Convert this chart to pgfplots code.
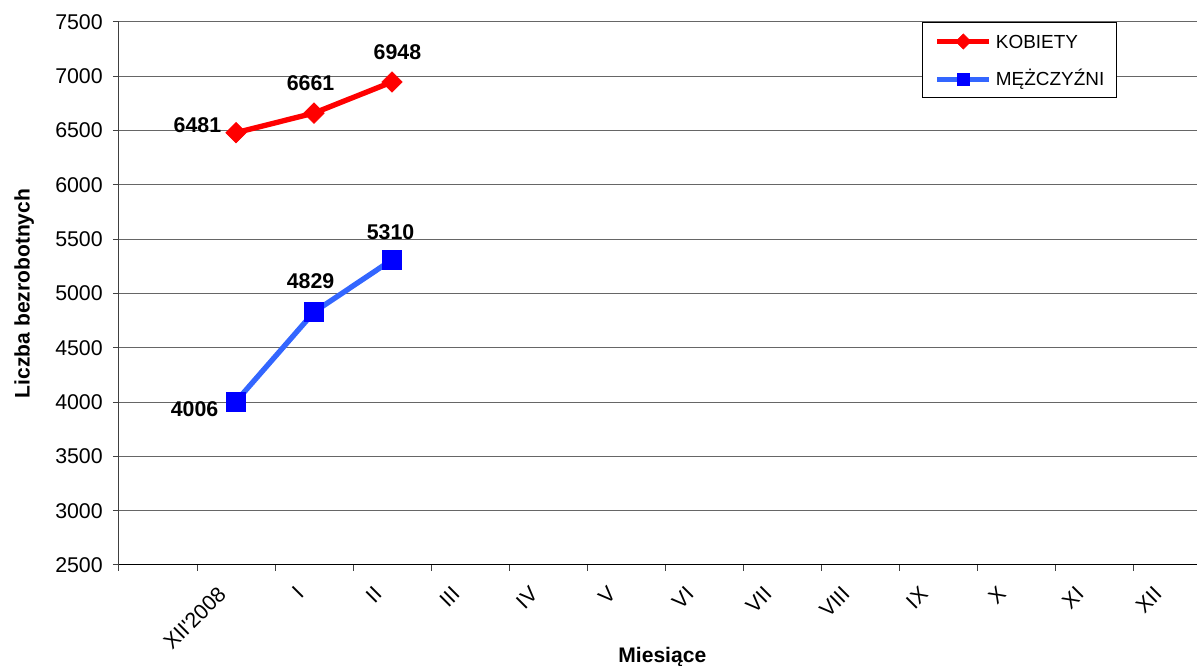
\documentclass[border=0pt]{standalone}
\usepackage{fontspec}
\setmainfont{Liberation Sans}[Ligatures=TeXOff]
\usepackage{pgfplots}
\usepackage{pgfplotstable}
\pgfplotsset{compat=1.18}
\definecolor{kred}{HTML}{FF0000}
\definecolor{mline}{HTML}{3366FF}
\definecolor{mmark}{HTML}{0000FF}

\pgfplotstableread{
x y dx dy
0 6481 -28.9 5.8
1 6661 -2.6 22.2
2 6948 4.1 22.1
}\kob
\pgfplotstableread{
x y dx dy
0 4006 -31.1 -5.6
1 4829 -2.6 23.0
2 5310 -1.1 20.5
}\mez

\begin{document}
\begin{tikzpicture}
\begin{axis}[
  scale only axis, width=808.5pt, height=407.25pt,
  xmin=-1.5, xmax=12.32, ymin=2500, ymax=7500,
  axis lines=left, axis line style={-},
  x axis line style={black, line width=0.75pt},
  y axis line style={black!75, line width=0.75pt},
  ytick={2500,3000,...,7500},
  xtick={-1.5,-0.5,0.5,1.5,2.5,3.5,4.5,5.5,6.5,7.5,8.5,9.5,10.5,11.5},
  xticklabel=\empty,
  extra x ticks={0,1,2,3,4,5,6,7,8,9,10,11,12},
  extra x tick labels={XII'2008,I,II,III,IV,V,VI,VII,VIII,IX,X,XI,XII},
  extra x tick style={major tick length=0pt,
    xticklabel style={xshift=-14.5pt, yshift=-15pt, rotate=45, anchor=north east, inner sep=0pt}},
  tick align=outside,
  major tick length=4.5pt,
  tick style={black!75, line width=0.75pt},
  tick label style={font=\fontsize{16}{19}\selectfont},
  yticklabel style={inner sep=0pt, xshift=-7.5pt},
  /pgf/number format/assume math mode=true,
  /pgf/number format/1000 sep={},
  ymajorgrids, major grid style={black!60, line width=0.75pt},
  xlabel={Miesiące}, ylabel={Liczba bezrobotnych},
  label style={font=\fontsize{15.8}{19}\selectfont\bfseries},
  xlabel style={at={(axis description cs:0.504,-0.169)}, anchor=center},
  ylabel style={at={(axis description cs:-0.088,0.5)}, anchor=center},
  legend style={at={(0.745,1)}, anchor=north west, draw=black, line width=0.75pt, fill=white,
    inner xsep=9pt, inner ysep=8.6pt, row sep=17.5pt, column sep=3pt,
    font=\fontsize{14.2}{17}\selectfont,
    nodes={inner sep=0pt, text height=10.2pt, text depth=0pt}},
  legend cell align=left,
  legend image code/.code={\draw[mark repeat=2,mark phase=2,#1] plot coordinates {(0pt,0pt) (19.5pt,0pt) (39pt,0pt)};},
]
\coordinate (sw) at (rel axis cs:0,0);
\addlegendimage{kred, line width=4pt, mark=square*, mark size=4pt, mark options={rotate=45, line width=0.5pt}}
\addlegendentry{KOBIETY}
\addlegendimage{mline, line width=4pt, mark=square*, mark size=4.6pt, mark options={mmark, line width=0.5pt}}
\addlegendentry{MĘŻCZYŹNI}
\addplot[kred, line width=4pt, mark=square*, mark size=5.4pt, mark options={rotate=45, line width=0.5pt},
  forget plot,
  visualization depends on={\thisrow{dx}\as\dx},
  visualization depends on={\thisrow{dy}\as\dy},
  nodes near coords,
  nodes near coords style={anchor=center, xshift=\dx pt, yshift=\dy pt, text=black, font=\fontsize{16}{19}\selectfont\bfseries}]
  table[x=x,y=y] {\kob};
\addplot[mline, line width=4pt, mark=square*, mark size=7.2pt, mark options={mmark, line width=0.5pt},
  forget plot,
  visualization depends on={\thisrow{dx}\as\dx},
  visualization depends on={\thisrow{dy}\as\dy},
  nodes near coords,
  nodes near coords style={anchor=center, xshift=\dx pt, yshift=\dy pt, text=black, font=\fontsize{16}{19}\selectfont\bfseries}]
  table[x=x,y=y] {\mez};
\end{axis}
\pgfresetboundingbox
\path[use as bounding box] (sw) ++(-89.25pt,-75.75pt) rectangle ++(897.75pt,499.5pt);
\end{tikzpicture}
\end{document}
